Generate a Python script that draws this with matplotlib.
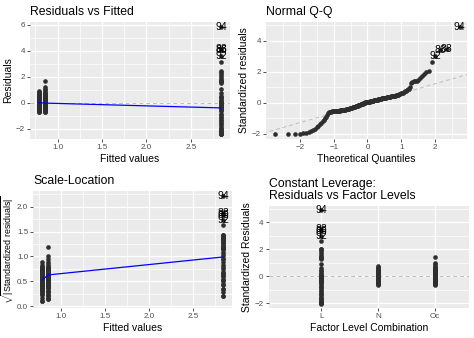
import numpy as np
import matplotlib
matplotlib.use("Agg")
import matplotlib.pyplot as plt
from matplotlib.ticker import FixedLocator
from statistics import NormalDist

plt.rcParams['font.family'] = ['Liberation Sans', 'DejaVu Sans']
plt.rcParams['mathtext.fontset'] = 'custom'
plt.rcParams['mathtext.rm'] = 'Liberation Sans'

# data
levels = ["L", "N", "Oc"]
fitted_by_level = [2.84, 0.79, 0.86]
resid_scale = 1.19          # residual = standardized * scale

std_L = [-2.02, -2.0, -2.0, -2.0, -1.98, -1.95, -1.9, -1.85, -1.78, -1.7,
         -1.6, -1.5, -1.4, -1.3, -1.2, -1.1, -1.0, -0.9, -0.8, -0.7,
         -0.55, -0.47, -0.42, -0.36, -0.3, -0.25, -0.19, -0.12, -0.08, -0.04,
         0.04, 0.12, 0.2, 0.28, 0.36, 0.45, 0.62, 0.9,
         1.3, 1.35, 1.38, 1.42, 1.45, 1.6, 1.7, 1.85, 2.0, 2.02,
         2.65, 3.02, 3.38, 3.48, 4.88]
std_N = [-0.62, -0.57, -0.56, -0.55, -0.53, -0.52, -0.5, -0.49, -0.47, -0.46,
         -0.43, -0.4, -0.37, -0.34, -0.31, -0.28, -0.24, -0.2, -0.17, -0.13,
         -0.1, -0.06, -0.01,
         0.01, 0.03, 0.05, 0.07, 0.09, 0.11, 0.12, 0.14, 0.16, 0.18, 0.2, 0.22,
         0.24, 0.25, 0.27, 0.29, 0.31, 0.33, 0.35, 0.37, 0.39, 0.41, 0.43, 0.45,
         0.47, 0.49, 0.55, 0.62, 0.7, 0.78]
std_Oc = [-0.63, -0.58, -0.56, -0.54, -0.53, -0.51, -0.5, -0.48, -0.46,
          -0.44, -0.41, -0.38, -0.35, -0.32, -0.29, -0.26, -0.22, -0.18, -0.14,
          -0.09, -0.05, -0.02,
          0.03, 0.02, 0.04, 0.06, 0.08, 0.1, 0.13, 0.15, 0.17, 0.19, 0.21, 0.23,
          0.26, 0.28, 0.3, 0.32, 0.34, 0.36, 0.38, 0.4, 0.43, 0.46, 0.48,
          0.52, 0.58, 0.65, 0.72, 0.8, 0.9, 1.0, 1.4]

label_ids = ["94", "88", "86", "92"]   # largest |std residual| first

smooth_x = [0.79, 0.86, 2.84]
resid_smooth = [0.0, -0.03, -0.4]
scale_smooth = [0.53, 0.63, 0.99]

groups = [std_L, std_N, std_Oc]
std = np.concatenate([np.array(g) for g in groups])
fitted = np.concatenate([np.full(len(g), f) for g, f in zip(groups, fitted_by_level)])
level_pos = np.concatenate([np.full(len(g), i + 1) for i, g in enumerate(groups)])
resid = std * resid_scale
top = np.argsort(-np.abs(std))[:len(label_ids)]

n = len(std)
order = np.argsort(std)
nd = NormalDist()
theo = np.array([nd.inv_cdf((i + 0.5) / n) for i in range(n)])
theo_of = np.empty(n)
theo_of[order] = theo
q1, q3 = np.percentile(std, [25, 75])
t1, t3 = nd.inv_cdf(0.25), nd.inv_cdf(0.75)
slope = (q3 - q1) / (t3 - t1)
icpt = q1 - slope * t1

pt_col = '#2e2e2e'
W, H = 474, 338
fig = plt.figure(figsize=(W / 100, H / 100), dpi=100)


def panel(l, r, t, b):
    return fig.add_axes([l / W, 1 - b / H, (r - l) / W, (b - t) / H])


def gg(ax, title, xlabel, ylabel, ysize=7.5):
    ax.set_facecolor('#EBEBEB')
    for s in ax.spines.values():
        s.set_visible(False)
    ax.grid(which='major', color='white', lw=0.9)
    ax.grid(which='minor', color='white', lw=0.5)
    ax.set_axisbelow(True)
    ax.tick_params(which='major', length=2.2, width=0.6, color='#333333',
                   labelsize=5.8, labelcolor='#4D4D4D', pad=1.5)
    ax.tick_params(which='minor', length=0)
    ax.set_title(title, loc='left', fontsize=8.8, pad=5, linespacing=1.0)
    ax.set_xlabel(xlabel, fontsize=7.5, labelpad=2)
    ax.set_ylabel(ylabel, fontsize=ysize, labelpad=2)


def put_labels(ax, xs, ys):
    for k, idx in enumerate(top):
        ax.text(xs[idx], ys[idx], label_ids[k], fontsize=7.5, ha='center',
                va='center', color='black', zorder=5)


# Residuals vs Fitted
ax = panel(30, 230, 21.7, 139.3)
ax.scatter(fitted, resid, s=11, color=pt_col, lw=0, zorder=3)
ax.axhline(0, color='#BDBDBD', ls=(0, (4, 3)), lw=0.7, zorder=2)
ax.plot(smooth_x, resid_smooth, color='#0000FF', lw=0.9, zorder=4)
put_labels(ax, fitted, resid)
ax.set_xlim(0.69, 2.94)
ax.set_ylim(-2.81, 6.22)
ax.xaxis.set_major_locator(FixedLocator([1.0, 1.5, 2.0, 2.5]))
ax.yaxis.set_major_locator(FixedLocator([-2, 0, 2, 4, 6]))
ax.xaxis.set_minor_locator(FixedLocator([0.75, 1.25, 1.75, 2.25, 2.75]))
ax.yaxis.set_minor_locator(FixedLocator([-1, 1, 3, 5]))
ax.set_xticklabels(['1.0', '1.5', '2.0', '2.5'])
gg(ax, 'Residuals vs Fitted', 'Fitted values', 'Residuals')

# Normal Q-Q
ax = panel(266.3, 467, 21.7, 139.3)
ax.scatter(theo_of, std, s=11, color=pt_col, lw=0, zorder=3)
xx = np.array([-3.1, 3.1])
ax.plot(xx, icpt + slope * xx, color='#BDBDBD', ls=(0, (4, 3)), lw=0.7, zorder=2)
put_labels(ax, theo_of, std)
ax.set_xlim(-3.0, 2.95)
ax.set_ylim(-2.37, 5.23)
ax.xaxis.set_major_locator(FixedLocator([-2, -1, 0, 1, 2]))
ax.yaxis.set_major_locator(FixedLocator([-2, 0, 2, 4]))
ax.xaxis.set_minor_locator(FixedLocator([-2.5, -1.5, -0.5, 0.5, 1.5, 2.5]))
ax.yaxis.set_minor_locator(FixedLocator([-1, 1, 3, 5]))
gg(ax, 'Normal Q-Q', 'Theoretical Quantiles', 'Standardized residuals')

# Scale-Location
sq = np.sqrt(np.abs(std))
ax = panel(33.3, 231.7, 190.7, 308.3)
ax.scatter(fitted, sq, s=11, color=pt_col, lw=0, zorder=3)
ax.plot(smooth_x, scale_smooth, color='#0000FF', lw=0.9, zorder=4)
put_labels(ax, fitted, sq)
ax.set_xlim(0.69, 2.94)
ax.set_ylim(-0.04, 2.32)
ax.xaxis.set_major_locator(FixedLocator([1.0, 1.5, 2.0, 2.5]))
ax.yaxis.set_major_locator(FixedLocator([0.0, 0.5, 1.0, 1.5, 2.0]))
ax.xaxis.set_minor_locator(FixedLocator([0.75, 1.25, 1.75, 2.25, 2.75]))
ax.yaxis.set_minor_locator(FixedLocator([0.25, 0.75, 1.25, 1.75, 2.25]))
ax.set_xticklabels(['1.0', '1.5', '2.0', '2.5'])
ax.set_yticklabels(['0.0', '0.5', '1.0', '1.5', '2.0'])
gg(ax, 'Scale-Location', 'Fitted values',
   r'$\sqrt{|\mathrm{Standardized\ residuals}|}$', ysize=6.4)
ax.yaxis.set_label_coords(-0.088, 0.5)

# Constant Leverage
ax = panel(268.7, 468.7, 205.7, 308.3)
ax.scatter(level_pos, std, s=11, color=pt_col, lw=0, zorder=3)
ax.axhline(0, color='#BDBDBD', ls=(0, (4, 3)), lw=0.7, zorder=2)
put_labels(ax, level_pos, std)
ax.set_xlim(0.08, 3.59)
ax.set_ylim(-2.37, 5.23)
ax.xaxis.set_major_locator(FixedLocator([1, 2, 3]))
ax.set_xticklabels(levels)
ax.yaxis.set_major_locator(FixedLocator([-2, 0, 2, 4]))
ax.yaxis.set_minor_locator(FixedLocator([-1, 1, 3, 5]))
gg(ax, 'Constant Leverage:\nResiduals vs Factor Levels',
   'Factor Level Combination', 'Standardized Residuals')

fig.savefig('out.png', dpi=100)
